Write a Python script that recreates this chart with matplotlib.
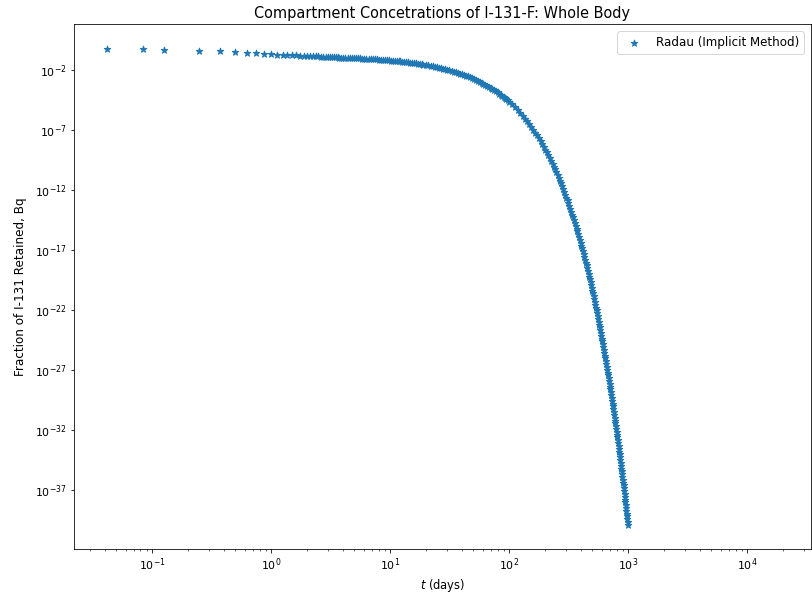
import matplotlib
matplotlib.use('Agg')
import matplotlib.pyplot as plt
import matplotlib.ticker as ticker
import numpy as np


# time points (days) and log10 of fraction retained
t_early = [0.0417, 0.0833, 0.125, 0.25, 0.375, 0.5, 0.625, 0.75, 0.875, 1.0,
           1.125, 1.25, 1.375, 1.5, 1.625, 1.75, 1.875, 2.0, 2.125, 2.25,
           2.375, 2.5, 2.625, 2.75, 2.875, 3.0, 3.125, 3.25, 3.375, 3.5,
           3.625, 3.75, 3.875, 4.0]
logy_early = [-0.27, -0.28, -0.30, -0.38, -0.45, -0.51, -0.57, -0.62, -0.66, -0.70,
              -0.72, -0.74, -0.755, -0.77, -0.785, -0.80, -0.815, -0.83, -0.84, -0.85,
              -0.86, -0.87, -0.88, -0.89, -0.90, -0.91, -0.92, -0.925, -0.93, -0.94,
              -0.95, -0.955, -0.96, -0.97]

t_mid = [4.2, 4.4, 4.6, 4.8, 5.0, 5.2, 5.4, 5.6, 5.8, 6.0,
         6.3, 6.6, 6.9, 7.2, 7.5, 7.8, 8.1, 8.4, 8.7, 9.0,
         9.4, 9.8, 10.2, 10.6, 11.0, 11.4, 11.8, 12.2, 12.6, 13.0,
         13.6, 14.2, 14.8, 15.4, 16.0, 16.6, 17.2, 17.8, 18.4, 19.0,
         20, 21, 22, 23, 24, 25, 26, 27, 28, 29,
         30, 31.5, 33, 34.5, 36, 37.5, 39, 40.5, 42, 43.5,
         45, 47, 49, 51, 53, 55, 57, 59, 61, 63,
         65, 67.5, 70, 72.5, 75, 77.5, 80, 82.5, 85, 87.5,
         90, 92.5, 95, 97.5]
logy_mid = [-0.98, -0.99, -0.99, -1.00, -1.01, -1.02, -1.02, -1.03, -1.04, -1.05,
            -1.06, -1.07, -1.08, -1.09, -1.10, -1.11, -1.13, -1.14, -1.15, -1.16,
            -1.18, -1.19, -1.21, -1.22, -1.24, -1.25, -1.27, -1.28, -1.30, -1.31,
            -1.34, -1.36, -1.38, -1.40, -1.43, -1.45, -1.47, -1.50, -1.52, -1.54,
            -1.58, -1.62, -1.66, -1.69, -1.73, -1.77, -1.81, -1.85, -1.88, -1.92,
            -1.96, -2.02, -2.08, -2.13, -2.19, -2.25, -2.30, -2.36, -2.42, -2.47,
            -2.53, -2.61, -2.68, -2.76, -2.84, -2.91, -2.99, -3.07, -3.14, -3.22,
            -3.29, -3.39, -3.48, -3.58, -3.68, -3.77, -3.87, -3.96, -4.06, -4.15,
            -4.25, -4.34, -4.44, -4.53]

t_late = [100, 106, 112, 118, 124, 130, 136, 142, 148, 154,
          160, 166, 172, 178, 184, 190, 196, 202, 208, 214,
          220, 226, 232, 238, 244, 250, 256, 262, 268, 274,
          280, 286, 292, 298, 304, 310, 316, 322, 328, 334,
          340, 346, 352, 358, 364, 370, 376, 382, 388, 394,
          400, 406, 412, 418, 424, 430, 436, 442, 448, 454,
          460, 466, 472, 478, 484, 490, 496, 502, 508, 514,
          520, 526, 532, 538, 544, 550, 556, 562, 568, 574,
          580, 586, 592, 598, 604, 610, 616, 622, 628, 634,
          640, 646, 652, 658, 664, 670, 676, 682, 688, 694,
          700, 706, 712, 718, 724, 730, 736, 742, 748, 754,
          760, 766, 772, 778, 784, 790, 796, 802, 808, 814,
          820, 826, 832, 838, 844, 850, 856, 862, 868, 874,
          880, 886, 892, 898, 904, 910, 916, 922, 928, 934,
          940, 946, 952, 958, 964, 970, 976, 982, 988, 994,
          1000]
logy_late = [-4.63, -4.87, -5.10, -5.34, -5.57, -5.81, -6.04, -6.28, -6.51, -6.75,
             -6.98, -7.22, -7.45, -7.69, -7.92, -8.16, -8.39, -8.63, -8.86, -9.10,
             -9.33, -9.57, -9.80, -10.04, -10.27, -10.51, -10.75, -10.98, -11.22, -11.45,
             -11.69, -11.92, -12.16, -12.39, -12.63, -12.86, -13.10, -13.33, -13.57, -13.80,
             -14.04, -14.27, -14.51, -14.74, -14.98, -15.21, -15.45, -15.68, -15.92, -16.15,
             -16.39, -16.63, -16.86, -17.10, -17.33, -17.57, -17.80, -18.04, -18.27, -18.51,
             -18.74, -18.98, -19.21, -19.45, -19.68, -19.92, -20.15, -20.39, -20.62, -20.86,
             -21.09, -21.33, -21.56, -21.80, -22.03, -22.27, -22.51, -22.74, -22.98, -23.21,
             -23.45, -23.68, -23.92, -24.15, -24.39, -24.62, -24.86, -25.09, -25.33, -25.56,
             -25.80, -26.03, -26.27, -26.50, -26.74, -26.97, -27.21, -27.44, -27.68, -27.91,
             -28.15, -28.39, -28.62, -28.86, -29.09, -29.33, -29.56, -29.80, -30.03, -30.27,
             -30.50, -30.74, -30.97, -31.21, -31.44, -31.68, -31.91, -32.15, -32.38, -32.62,
             -32.85, -33.09, -33.32, -33.56, -33.79, -34.03, -34.27, -34.50, -34.74, -34.97,
             -35.21, -35.44, -35.68, -35.91, -36.15, -36.38, -36.62, -36.85, -37.09, -37.32,
             -37.56, -37.79, -38.03, -38.26, -38.50, -38.73, -38.97, -39.20, -39.44, -39.67,
             -39.91]

y_tick_exponents = [-2, -7, -12, -17, -22, -27, -32, -37]


def make_plot():
    t = np.array(t_early + t_mid + t_late)
    frac = 10.0 ** np.array(logy_early + logy_mid + logy_late)

    fig = plt.figure(figsize=(812 / 72, 598 / 72), dpi=72)
    ax = fig.add_axes([0.0908, 0.0814, 0.9076, 0.8779])

    ax.scatter(t, frac, marker='*', s=46, color='#1f77b4', label='Radau (Implicit Method)')

    ax.set_xscale('log')
    ax.set_yscale('log')
    ax.set_xlim(10 ** -1.658, 10 ** 4.535)
    ax.set_ylim(10 ** -41.94, 10 ** 1.81)

    ax.yaxis.set_major_locator(ticker.FixedLocator([10.0 ** e for e in y_tick_exponents]))
    ax.yaxis.set_minor_locator(ticker.NullLocator())
    ax.tick_params(labelsize=11)

    ax.set_title('Compartment Concetrations of I-131-F: Whole Body', fontsize=14.5, pad=6)
    ax.set_xlabel('$t$ (days)', fontsize=11.5, labelpad=4)
    ax.set_ylabel('Fraction of I-131 Retained, Bq', fontsize=12, labelpad=8)
    ax.legend(loc='upper right', fontsize=11.9, borderaxespad=0.6)

    fig.savefig('out.png', dpi=72)
    plt.close(fig)


make_plot()
